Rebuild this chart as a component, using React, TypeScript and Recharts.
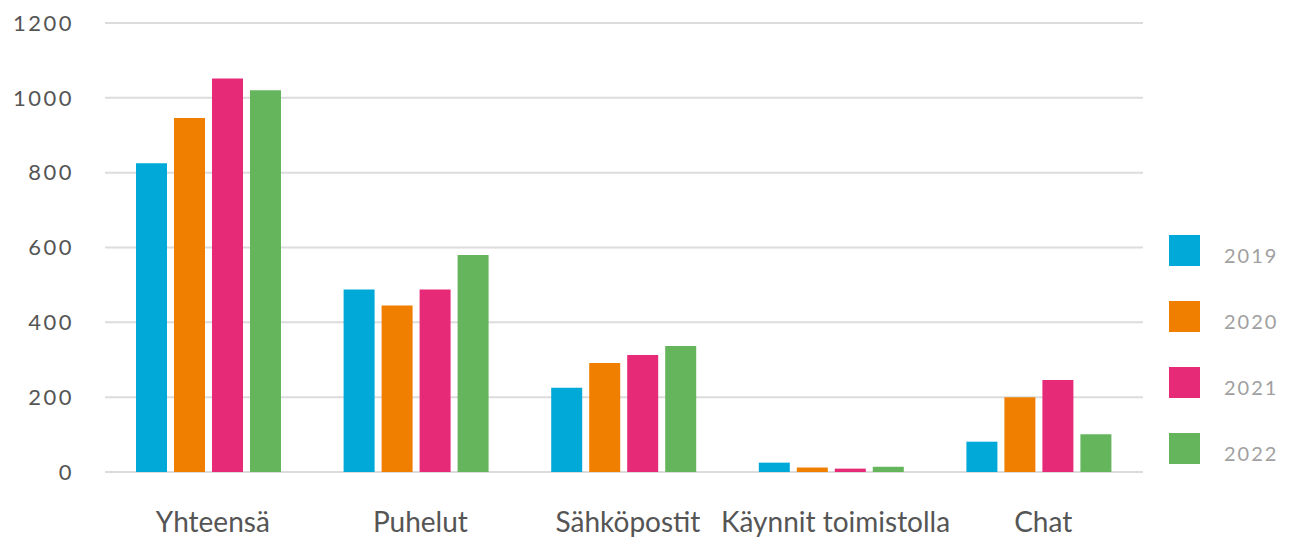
import { BarChart, Bar, XAxis, YAxis, CartesianGrid } from 'recharts';

// values
const categories = ['Yhteensä', 'Puhelut', 'Sähköpostit', 'Käynnit toimistolla', 'Chat'];
const years = ['2019', '2020', '2021', '2022'];
const v2019 = [825, 488, 225, 25, 81];
const v2020 = [946, 445, 291, 12, 200];
const v2021 = [1052, 488, 313, 9, 246];
const v2022 = [1020, 580, 337, 14, 101];
const yTicks = [0, 200, 400, 600, 800, 1000, 1200];

const colors = ['#00A9D8', '#F07F00', '#E72A78', '#65B55D'];
const FONT = 'Lato, "Open Sans", sans-serif';

const seriesValues = [v2019, v2020, v2021, v2022];
const rows = categories.map((name, i) => {
  const row: Record<string, string | number> = { name };
  years.forEach((y, j) => {
    row[y] = seriesValues[j][i];
  });
  return row;
});

function SideLegend() {
  return (
    <div style={{ position: 'absolute', left: 1169, top: 235 }}>
      {years.map((y, i) => (
        <div
          key={y}
          style={{ display: 'flex', alignItems: 'center', height: 31, marginBottom: 35 }}
        >
          <div style={{ width: 31, height: 31, background: colors[i] }} />
          <span
            style={{
              marginLeft: 24,
              marginTop: 8,
              fontFamily: FONT,
              fontSize: 20,
              color: '#a0a0a0',
              letterSpacing: 2,
            }}
          >
            {y}
          </span>
        </div>
      ))}
    </div>
  );
}

export default function App() {
  return (
    <div style={{ position: 'absolute', left: 0, top: 0, width: 1289, height: 538, background: '#fff' }}>
      <BarChart
        width={1289}
        height={538}
        data={rows}
        margin={{ top: 23, right: 146, bottom: 6, left: 2 }}
        barSize={31}
        barGap={7}
      >
        <CartesianGrid vertical={false} stroke="#dcdcdc" strokeWidth={2} />
        <XAxis
          dataKey="name"
          axisLine={false}
          tickLine={false}
          height={60}
          tickMargin={34}
          interval={0}
          tick={{ fontFamily: FONT, fontSize: 28, fill: '#555', dx: 4 }}
        />
        <YAxis
          width={103}
          domain={[0, 1200]}
          ticks={yTicks}
          axisLine={false}
          tickLine={false}
          tickMargin={25}
          tick={{ fontFamily: FONT, fontSize: 22, fill: '#555', letterSpacing: 2.5 }}
        />
        {years.map((y, i) => (
          <Bar key={y} dataKey={y} name={y} fill={colors[i]} isAnimationActive={false} />
        ))}
      </BarChart>
      <SideLegend />
    </div>
  );
}
